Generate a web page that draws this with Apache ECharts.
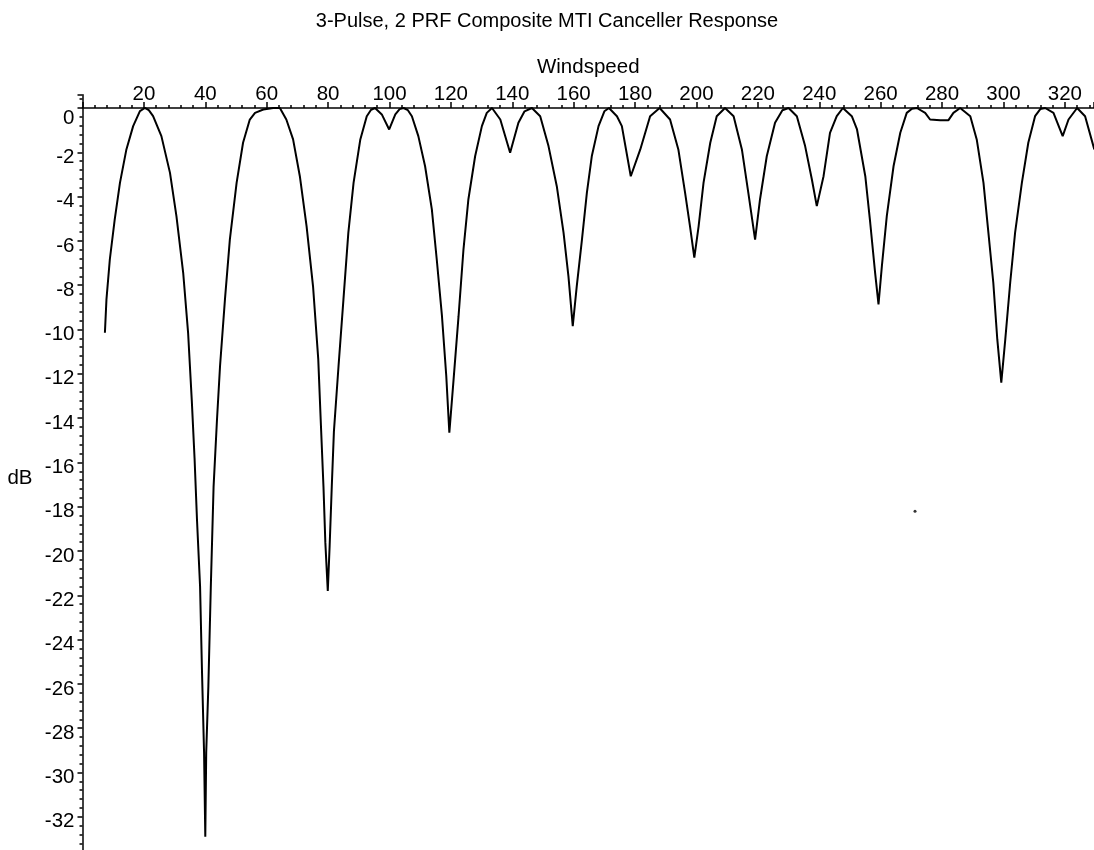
<!DOCTYPE html>
<html>
<head>
<meta charset="utf-8">
<script src="https://cdn.jsdelivr.net/npm/echarts@6/dist/echarts.min.js"></script>
<style>
html,body{margin:0;padding:0;background:#fff;}
#chart{width:1094px;height:850px;}
</style>
</head>
<body>
<div id="chart"></div>
<script>
// Windspeed values (x)
const windspeed = [
  7.3, 7.8, 8.9, 10.5, 12.2, 14.3, 16.5, 18.7, 20.3, 21.6, 23.0, 25.7, 28.5, 30.6, 32.8, 34.4, 35.6, 36.5, 37.3, 38.3, 38.9, 39.6, 40.0,
  40.3, 41.0, 41.8, 42.7, 43.8, 44.8, 46.4, 48.0, 50.2, 52.3, 54.5, 56.2, 58.9, 62.1, 64.3, 66.4, 68.6, 70.8, 73.0, 75.1, 76.8, 77.6, 78.5, 79.1, 79.9,
  80.5, 81.2, 81.9, 83.4, 85.0, 86.6, 88.3, 90.5, 92.6, 94.0, 95.3, 97.5, 99.9, 101.9, 103.3, 104.6, 106.0, 107.3, 109.4, 111.6, 113.8, 115.4, 117.1, 118.5, 119.5,
  120.8, 122.5, 124.1, 125.7, 127.9, 130.1, 131.7, 133.4, 136.1, 139.3, 142.0, 144.0, 146.4, 149.1, 151.8, 154.5, 156.7, 158.3, 159.7,
  161.0, 162.7, 164.3, 165.9, 168.1, 170.0, 171.5, 174.1, 175.7, 178.6, 181.7, 184.9, 188.0, 191.4, 194.1, 196.3, 197.9, 199.3,
  200.7, 202.3, 204.5, 206.6, 209.3, 212.1, 214.8, 216.9, 219.1, 220.7, 222.9, 225.6, 228.0, 230.0, 232.7, 235.4, 237.6, 239.2,
  241.4, 243.5, 245.7, 247.7, 250.6, 252.3, 255.0, 256.6, 258.2, 259.3, 260.4, 262.0, 264.2, 266.4, 268.5, 270.2, 271.8, 274.5, 276.1, 279.4,
  282.1, 283.7, 285.9, 289.2, 291.3, 293.5, 295.1, 296.7, 298.0, 299.3, 300.6, 302.2, 303.8, 306.0, 308.1, 310.3, 312.0, 313.6, 316.3, 319.3,
  321.2, 324.0, 326.6, 329.6
];
// Response in dB, one per windspeed value
const responseDb = [
  -10.15, -8.65, -6.84, -5.03, -3.38, -1.87, -0.82, -0.14, 0, -0.1, -0.37, -1.27, -2.93, -4.88, -7.44, -10.15, -13.2, -15.8, -18.6, -21.6, -25.3, -29.1, -32.9,
  -29.1, -26.1, -21.6, -17.1, -14.1, -11.66, -8.65, -5.94, -3.38, -1.57, -0.52, -0.22, -0.07, 0, 0, -0.52, -1.42, -3.08, -5.34, -8.05, -11.35, -14.1, -17.1, -19.6, -21.8,
  -19.8, -17.1, -14.6, -11.66, -8.65, -5.63, -3.38, -1.42, -0.37, -0.08, 0, -0.29, -0.97, -0.29, -0.05, 0, -0.1, -0.37, -1.27, -2.63, -4.58, -6.84, -9.4, -12.1, -14.66,
  -12.4, -9.4, -6.39, -4.13, -2.18, -0.82, -0.22, 0, -0.52, -2.02, -0.67, -0.15, 0, -0.37, -1.72, -3.53, -5.63, -7.6, -9.85,
  -8.05, -5.94, -3.83, -2.18, -0.82, -0.15, 0, -0.37, -0.82, -3.08, -1.87, -0.37, 0, -0.52, -1.87, -3.83, -5.34, -6.76,
  -5.34, -3.38, -1.57, -0.37, 0, -0.37, -1.87, -3.83, -5.94, -4.13, -2.18, -0.67, -0.1, 0, -0.37, -1.72, -3.23, -4.43,
  -3.08, -1.12, -0.37, 0, -0.37, -0.97, -3.08, -5.18, -7.44, -8.87, -7.14, -4.88, -2.63, -1.12, -0.22, -0.03, 0, -0.22, -0.52, -0.55,
  -0.55, -0.22, 0, -0.37, -1.42, -3.38, -5.63, -7.89, -10.45, -12.4, -10.45, -7.89, -5.63, -3.38, -1.57, -0.37, -0.05, 0, -0.22, -1.27,
  -0.52, 0, -0.37, -1.87
];
// Stray dot visible in the reference
const strayX = [271.2];
const strayY = [-18.2];

const title = '3-Pulse, 2 PRF Composite MTI Canceller Response';
const xName = 'Windspeed';
const yName = 'dB';

const FONT = '"Liberation Sans", Arial, sans-serif';
const FS = 20.5;

const curve = windspeed.map((x, i) => [x, responseDb[i]]);
const dots = strayX.map((x, i) => [x, strayY[i]]);

const chart = echarts.init(document.getElementById('chart'), null, {renderer: 'canvas'});
chart.setOption({
  animation: false,
  backgroundColor: '#ffffff',
  title: {
    text: title,
    left: 'center',
    top: 6,
    textStyle: {fontFamily: FONT, fontSize: 20, fontWeight: 'normal', color: '#000'}
  },
  grid: {left: 82.5, right: 0, top: 94.7, height: 766.4, containLabel: false, outerBoundsMode: 'none'},
  xAxis: {
    type: 'value',
    position: 'top',
    min: 0,
    max: 329.5,
    interval: 20,
    name: xName,
    nameLocation: 'middle',
    nameGap: 17,
    nameTextStyle: {fontFamily: FONT, fontSize: FS, color: '#000'},
    axisLine: {show: true, onZero: true, lineStyle: {color: '#000', width: 1.5}},
    axisTick: {show: true, length: 6, lineStyle: {color: '#000', width: 1.5}},
    minorTick: {show: true, splitNumber: 5, length: 3, lineStyle: {color: '#000', width: 1.5}},
    axisLabel: {show: true, margin: -10, showMinLabel: false, showMaxLabel: false,
      fontFamily: FONT, fontSize: FS, color: '#000'},
    splitLine: {show: false},
    minorSplitLine: {show: false}
  },
  yAxis: {
    type: 'value',
    min: -34,
    max: 0.6,
    interval: 2,
    name: yName,
    nameLocation: 'middle',
    nameRotate: 0,
    nameGap: 50,
    nameTextStyle: {fontFamily: FONT, fontSize: FS, color: '#000', padding: [0, 0, 24, 0]},
    axisLine: {show: true, onZero: false, lineStyle: {color: '#000', width: 1.5}},
    axisTick: {show: true, length: 5, lineStyle: {color: '#000', width: 1.5}},
    minorTick: {show: true, splitNumber: 5, length: 3, lineStyle: {color: '#000', width: 1.5}},
    axisLabel: {
      show: true, margin: 8, showMinLabel: false, showMaxLabel: false,
      fontFamily: FONT, fontSize: FS, color: '#000',
      formatter: function (v) { return v === 0 ? '{z|0}' : '{n|' + v + '}'; },
      rich: {
        z: {fontFamily: FONT, fontSize: FS, color: '#000', padding: [20, 0, 0, 0]},
        n: {fontFamily: FONT, fontSize: FS, color: '#000', padding: [10, 0, 0, 0]}
      }
    },
    splitLine: {show: false},
    minorSplitLine: {show: false}
  },
  series: [
    {
      type: 'line',
      data: curve,
      showSymbol: false,
      smooth: false,
      clip: true,
      lineStyle: {color: '#000', width: 2},
      itemStyle: {color: '#000'}
    },
    {
      type: 'scatter',
      data: dots,
      symbolSize: 3,
      itemStyle: {color: '#000'}
    }
  ]
});
</script>
</body>
</html>
